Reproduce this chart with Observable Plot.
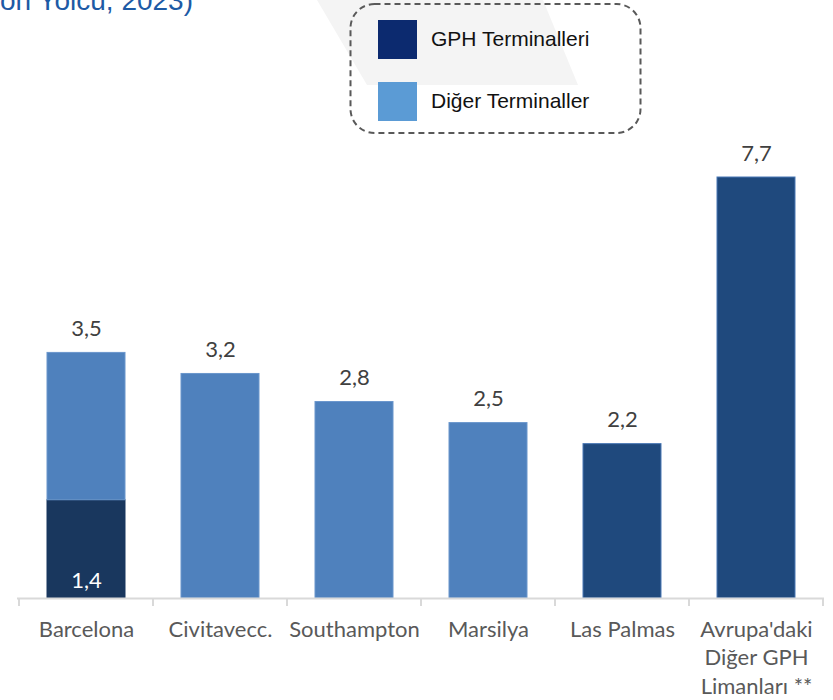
<!DOCTYPE html>
<html>
<head>
<meta charset="utf-8">
<script src="https://cdn.jsdelivr.net/npm/d3@7"></script>
<script src="https://cdn.jsdelivr.net/npm/@observablehq/plot@0.6"></script>
<style>
  html, body { margin: 0; padding: 0; background: #ffffff; }
  #wrap { position: relative; width: 833px; height: 700px; overflow: hidden; }
  #bg, #chart, #overlay { position: absolute; left: 0; top: 0; }
  #bg { z-index: 0; }
  #chart { z-index: 1; }
  #overlay { z-index: 2; pointer-events: none; }
</style>
</head>
<body>
<div id="wrap">
  <svg id="bg" width="833" height="700"></svg>
  <div id="chart"></div>
  <svg id="overlay" width="833" height="700"></svg>
</div>
<script>
// ---- data ----
const categories = ["Barcelona", "Civitavecc.", "Southampton", "Marsilya", "Las Palmas", "Avrupa'daki\nDiğer GPH\nLimanları **"];
const gphValues = [1.4, 0, 0, 0, 2.2, 7.7];      // GPH Terminalleri
const otherValues = [2.1, 3.2, 2.8, 2.5, 0, 0];  // Diğer Terminaller
const totalValues = [3.5, 3.2, 2.8, 2.5, 2.2, 7.7];
const seriesNames = ["GPH Terminalleri", "Diğer Terminaller"];
const titleText = "(Milyon Yolcu, 2023)";

// ---- styles ----
const legendColors = ["#0c2a6f", "#5b9bd5"];
const barLight = "#4f81bd";
const barDark = "#1f497d";
const barDarkStacked = "#19375e";

const tr = d3.formatLocale({decimal: ",", thousands: ".", grouping: [3], currency: ["", "₺"]});
const fmt = tr.format(".1f");

// tidy table
const rows = [];
categories.forEach((c, i) => {
  const stacked = gphValues[i] > 0 && otherValues[i] > 0;
  if (gphValues[i] > 0) rows.push({cat: c, series: seriesNames[0], value: gphValues[i], stacked});
  if (otherValues[i] > 0) rows.push({cat: c, series: seriesNames[1], value: otherValues[i], stacked});
});
const totals = categories.map((c, i) => ({cat: c, total: totalValues[i]}));
const innerLabels = rows.filter(d => d.stacked && d.series === seriesNames[0]);

// boundary ticks drawn from the band scale
function boundaryTicks(index, scales, values, dimensions) {
  const x = scales.x, y = scales.y;
  const bw = typeof x.bandwidth === "function" ? x.bandwidth() : x.bandwidth;
  const step = typeof x.step === "function" ? x.step() : x.step;
  const gap = (step - bw) / 2;
  const xs = categories.map(c => x(c) - gap);
  xs.push(x(categories[categories.length - 1]) + bw + gap);
  const y0 = y(0);
  const g = d3.create("svg:g");
  g.selectAll("line").data(xs).join("line")
    .attr("x1", d => d).attr("x2", d => d)
    .attr("y1", y0).attr("y2", y0 + 8)
    .attr("stroke", "#d9d9d9").attr("stroke-width", 2);
  return g.node();
}

const chart = Plot.plot({
  width: 833,
  height: 700,
  marginTop: 177,
  marginBottom: 102,
  marginLeft: 17,
  marginRight: 9,
  style: {background: "transparent", fontFamily: "Lato, 'Open Sans', sans-serif", color: "#595959"},
  x: {domain: categories, paddingInner: 0.42, paddingOuter: 0.21, axis: null},
  y: {domain: [0, 6], clamp: true, axis: null},
  marks: [
    Plot.barY(rows, Plot.stackY({
      x: "cat", y: "value",
      fill: d => d.series === seriesNames[0] ? (d.stacked ? barDarkStacked : barDark) : barLight,
      stroke: d => d.series === seriesNames[0] ? (d.stacked ? barDarkStacked : "#4a78b5") : "#6a96cc",
      strokeWidth: 1
    })),
    Plot.ruleY([0], {stroke: "#d9d9d9", strokeWidth: 2}),
    boundaryTicks,
    Plot.axisX({tickSize: 0, tickPadding: 18, fontSize: 22, lineHeight: 1.3, fill: "#595959", label: null}),
    Plot.text(totals, {x: "cat", y: "total", text: d => fmt(d.total), dy: -24, fontSize: 22, fill: "#404040"}),
    Plot.text(innerLabels, {x: "cat", y: 0, text: d => fmt(d.value), dy: -18, fontSize: 22, fill: "#ffffff"})
  ]
});
document.getElementById("chart").appendChild(chart);

// ---- background watermark, title and legend ----
const bg = d3.select("#bg");
bg.append("polygon").attr("points", "317,0 543,0 578,85 367,85").attr("fill", "#f4f4f4");

const ov = d3.select("#overlay");
ov.append("text").attr("x", 193).attr("y", 10).attr("text-anchor", "end")
  .attr("font-family", "'Liberation Sans', Arial, sans-serif").attr("font-size", 28)
  .attr("fill", "#1d5aa5").text(titleText);

ov.append("rect").attr("x", 350.5).attr("y", 4).attr("width", 290).attr("height", 129)
  .attr("rx", 24).attr("ry", 24).attr("fill", "none")
  .attr("stroke", "#595959").attr("stroke-width", 2).attr("stroke-dasharray", "6,4");
const lg = ov.selectAll("g.item").data(seriesNames).join("g").attr("class", "item")
  .attr("transform", (d, i) => `translate(378, ${20 + i * 62})`);
lg.append("rect").attr("width", 39).attr("height", 39).attr("fill", (d, i) => legendColors[i]);
lg.append("text").attr("x", 53).attr("y", 26)
  .attr("font-family", "'Liberation Sans', Arial, sans-serif").attr("font-size", 21)
  .attr("fill", "#111111").text(d => d);
</script>
</body>
</html>
